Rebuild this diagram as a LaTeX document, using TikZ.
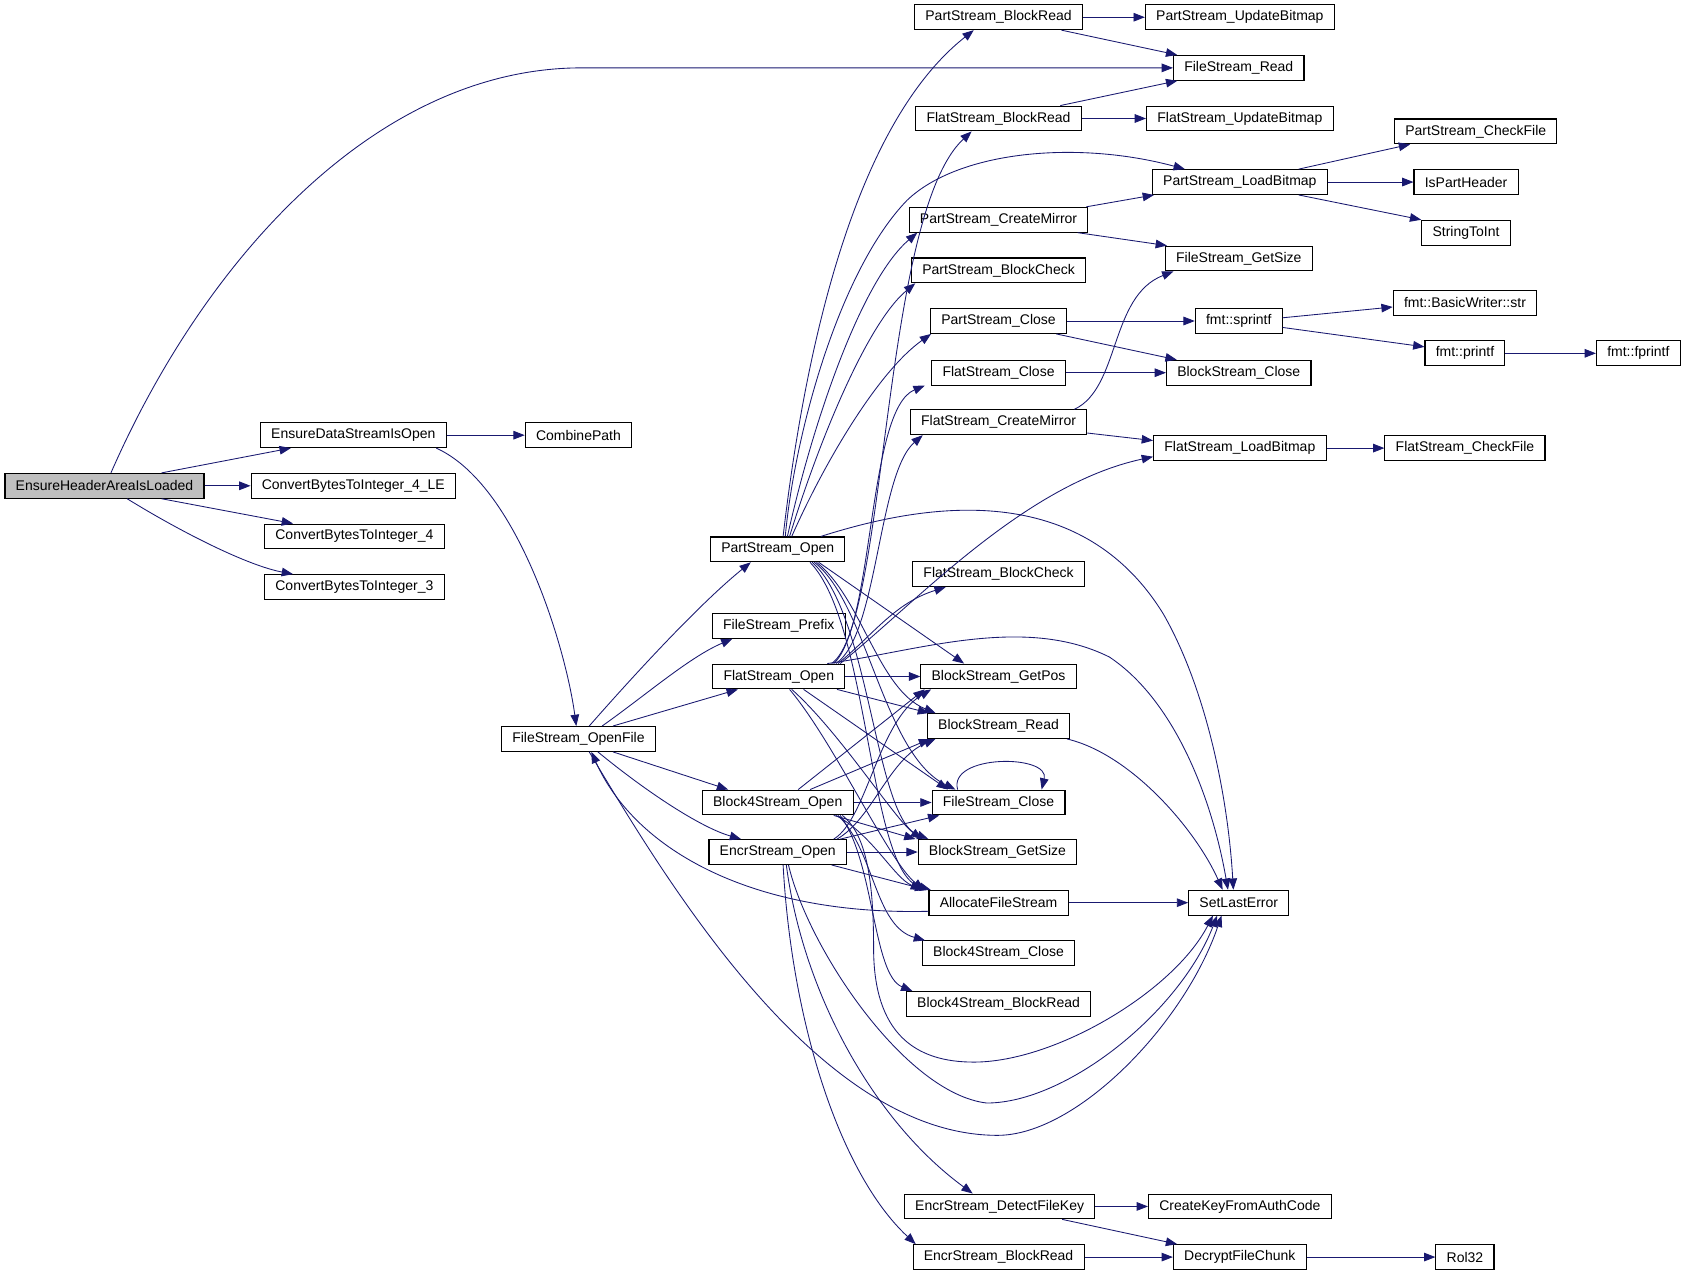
\documentclass[tikz,border=0pt]{standalone}
\usepackage{fontspec}
\newfontfamily\graphfont{Liberation Sans}
\usetikzlibrary{arrows.meta}
\definecolor{edgeblue}{HTML}{191970}

\begin{document}
\begin{tikzpicture}[x=1pt,y=-1pt]
			\tikzset{fn/.style={draw=black,fill=white,line width=1pt,minimum height=23pt,inner xsep=10pt,inner ysep=0pt,font=\graphfont\fontsize{13}{15}\selectfont},
				root/.style={fn,fill=black!25},
				edge/.style={draw=edgeblue,line width=0.8pt,-{Triangle[length=10.5pt,width=8pt]}}}
			\useasboundingbox (0,0) rectangle (1568,1185.5);
			\node [root] (ehal) at (97,451) {EnsureHeaderAreaIsLoaded};
			\node [fn] (edso) at (328,404) {EnsureDataStreamIsOpen};
			\node [fn] (cpath) at (537,404) {CombinePath};
			\node [fn] (cb4le) at (328,451) {ConvertBytesToInteger\_4\_LE};
			\node [fn] (cb4) at (329,498) {ConvertBytesToInteger\_4};
			\node [fn] (cb3) at (329,545) {ConvertBytesToInteger\_3};
			\node [fn] (fsof) at (537,686) {FileStream\_OpenFile};
			\node [fn] (psopen) at (722,510) {PartStream\_Open};
			\node [fn] (fspre) at (723,581) {FileStream\_Prefix};
			\node [fn] (fsopen) at (723,628) {FlatStream\_Open};
			\node [fn] (b4open) at (722,745) {Block4Stream\_Open};
			\node [fn] (esopen) at (722,791) {EncrStream\_Open};
			\node [fn] (psbr) at (927,16) {PartStream\_BlockRead};
			\node [fn] (psub) at (1151,16) {PartStream\_UpdateBitmap};
			\node [fn] (fsread) at (1150,63) {FileStream\_Read};
			\node [fn] (flbr) at (927,110) {FlatStream\_BlockRead};
			\node [fn] (flub) at (1151,110) {FlatStream\_UpdateBitmap};
			\node [fn] (pslb) at (1151,169) {PartStream\_LoadBitmap};
			\node [fn] (pscf) at (1370,122) {PartStream\_CheckFile};
			\node [fn] (isph) at (1361,169) {IsPartHeader};
			\node [fn] (s2i) at (1361,216) {StringToInt};
			\node [fn] (pscm) at (927,204) {PartStream\_CreateMirror};
			\node [fn] (fsgs) at (1150,240) {FileStream\_GetSize};
			\node [fn] (psbc) at (927,251) {PartStream\_BlockCheck};
			\node [fn] (psclose) at (927,298) {PartStream\_Close};
			\node [fn] (sprintf) at (1150,298) {fmt::sprintf};
			\node [fn] (bwstr) at (1360,281) {fmt::BasicWriter::str};
			\node [fn] (printf) at (1360,328) {fmt::printf};
			\node [fn] (fprintf) at (1521,328) {fmt::fprintf};
			\node [fn] (flclose) at (927,346) {FlatStream\_Close};
			\node [fn] (bsclose) at (1150,346) {BlockStream\_Close};
			\node [fn] (flcm) at (927,392) {FlatStream\_CreateMirror};
			\node [fn] (fllb) at (1151,416) {FlatStream\_LoadBitmap};
			\node [fn] (flcf) at (1360,416) {FlatStream\_CheckFile};
			\node [fn] (flbc) at (927,533) {FlatStream\_BlockCheck};
			\node [fn] (bsgp) at (927,628) {BlockStream\_GetPos};
			\node [fn] (bsread) at (927,674) {BlockStream\_Read};
			\node [fn] (fsclose) at (927,745) {FileStream\_Close};
			\node [fn] (bsgs) at (926,791) {BlockStream\_GetSize};
			\node [fn] (afs) at (927,838) {AllocateFileStream};
			\node [fn] (sle) at (1150,838) {SetLastError};
			\node [fn] (b4close) at (927,885) {Block4Stream\_Close};
			\node [fn] (b4br) at (927,932) {Block4Stream\_BlockRead};
			\node [fn] (esdfk) at (928,1120) {EncrStream\_DetectFileKey};
			\node [fn] (ckfac) at (1151,1120) {CreateKeyFromAuthCode};
			\node [fn] (esbr) at (927,1167) {EncrStream\_BlockRead};
			\node [fn] (dfc) at (1151,1167) {DecryptFileChunk};
			\node [fn] (rol) at (1360,1167) {Rol32};
			\draw [edge] ([xshift=6]ehal.north) .. controls (190,240) and (350,63) .. (540,63) -- (fsread.west);
			\draw [edge] ([xshift=53]ehal.north) -- ([xshift=-58]edso.south);
			\draw [edge] (ehal.east) -- (cb4le.west);
			\draw [edge] ([xshift=53]ehal.south) -- ([xshift=-57]cb4.north);
			\draw [edge] ([xshift=21]ehal.south) .. controls (170,495) and (230,525) .. ([xshift=-57]cb3.north);
			\draw [edge] (edso.east) -- (cpath.west);
			\draw [edge] ([xshift=77]edso.south) .. controls (480,450) and (525,600) .. ([xshift=-2]fsof.north);
			\draw [edge] ([xshift=10]fsof.north) .. controls (590,625) and (650,560) .. ([xshift=-25]psopen.south);
			\draw [edge] ([xshift=22]fsof.north) .. controls (600,645) and (640,610) .. ([xshift=-43]fspre.south);
			\draw [edge] ([xshift=32]fsof.north) -- ([xshift=-38]fsopen.south);
			\draw [edge] ([xshift=32]fsof.south) -- ([xshift=-46]b4open.north);
			\draw [edge] ([xshift=18]fsof.south) .. controls (600,735) and (650,768) .. ([xshift=-34]esopen.north);
			\draw [edge] ([xshift=5]psopen.north) .. controls (750,300) and (800,110) .. ([xshift=-23]psbr.south);
			\draw [edge] ([xshift=7]psopen.north) .. controls (738,400) and (780,250) .. (842,186) .. controls (890,140) and (1000,130) .. ([xshift=-51]pslb.north);
			\draw [edge] ([xshift=9]psopen.north) .. controls (755,390) and (800,260) .. ([xshift=8]pscm.south west);
			\draw [edge] ([xshift=11]psopen.north) .. controls (760,410) and (805,300) .. ([xshift=4]psbc.south west);
			\draw [edge] ([xshift=13]psopen.north) .. controls (765,430) and (815,345) .. ([xshift=1]psclose.south west);
			\draw [edge] ([xshift=40]psopen.north) .. controls (850,470) and (1000,440) .. (1080,570) .. controls (1120,640) and (1140,740) .. ([xshift=-5]sle.north);
			\draw [edge] ([xshift=38]psopen.south) -- ([xshift=-32]bsgp.north);
			\draw [edge] ([xshift=36]psopen.south) .. controls (800,555) and (815,640) .. ([xshift=8]bsread.north west);
			\draw [edge] ([xshift=34]psopen.south) .. controls (805,560) and (820,700) .. ([xshift=-40]fsclose.north);
			\draw [edge] ([xshift=32]psopen.south) .. controls (808,570) and (812,760) .. ([xshift=10]bsgs.north west);
			\draw [edge] ([xshift=30]psopen.south) .. controls (808,580) and (806,810) .. ([xshift=2]afs.north west);
			\draw [edge] ([xshift=49]fsopen.north) .. controls (824,580) and (818,200) .. ([xshift=-25]flbr.south);
			\draw [edge] ([xshift=51]fsopen.north) .. controls (812,580) and (805,380) .. ([xshift=-6]flclose.south west);
			\draw [edge] ([xshift=53]fsopen.north) .. controls (815,590) and (815,440) .. ([xshift=12]flcm.south west);
			\draw [edge] ([xshift=55]fsopen.north) .. controls (810,590) and (830,560) .. ([xshift=-49]flbc.south);
			\draw [edge] ([xshift=57]fsopen.north) .. controls (850,560) and (950,450) .. ([yshift=-8]fllb.west);
			\draw [edge] ([xshift=45]fsopen.north) .. controls (850,605) and (950,570) .. (1030,610) .. controls (1090,650) and (1125,740) .. ([xshift=-10]sle.north);
			\draw [edge] (fsopen.east) -- (bsgp.west);
			\draw [edge] ([xshift=54]fsopen.south) -- ([xshift=2]bsread.north west);
			\draw [edge] ([xshift=23]fsopen.south) -- ([xshift=-47]fsclose.north);
			\draw [edge] ([xshift=12]fsopen.south) .. controls (780,680) and (830,760) .. ([xshift=4]bsgs.north west);
			\draw [edge] ([xshift=10]fsopen.south) .. controls (775,690) and (825,800) .. ([xshift=-4]afs.north west);
			\draw [edge] ([xshift=19]b4open.north) -- ([xshift=4]bsgp.south west);
			\draw [edge] ([xshift=30]b4open.north) -- ([xshift=3]bsread.south west);
			\draw [edge] (b4open.east) -- (fsclose.west);
			\draw [edge] ([xshift=52]b4open.south) -- ([xshift=-2]bsgs.north west);
			\draw [edge] ([xshift=54]b4open.south) .. controls (810,775) and (830,815) .. ([xshift=-6]afs.north west);
			\draw [edge] ([xshift=56]b4open.south) .. controls (812,790) and (812,860) .. ([xshift=3]b4close.north west);
			\draw [edge] ([xshift=58]b4open.south) .. controls (812,800) and (810,905) .. ([xshift=6]b4br.north west);
			\draw [edge] ([xshift=60]b4open.south) .. controls (805,775) and (811,820) .. (811,880) .. controls (811,960) and (850,986) .. (904,986) .. controls (980,986) and (1090,920) .. ([xshift=-24]sle.south);
			\draw [edge] ([xshift=52]esopen.north) .. controls (805,760) and (815,670) .. ([xshift=10]bsgp.south west);
			\draw [edge] ([xshift=55]esopen.north) .. controls (810,760) and (825,705) .. ([xshift=8]bsread.south west);
			\draw [edge] ([xshift=58]esopen.north) -- ([xshift=-55]fsclose.south);
			\draw [edge] (esopen.east) -- (bsgs.west);
			\draw [edge] ([xshift=50]esopen.south) -- ([xshift=-2]afs.north west);
			\draw [edge] ([xshift=10]esopen.south) .. controls (750,880) and (840,1015) .. (916,1024) .. controls (990,1024) and (1095,940) .. ([xshift=-20]sle.south);
			\draw [edge] ([xshift=8]esopen.south) .. controls (745,920) and (810,1040) .. ([xshift=-25]esdfk.north);
			\draw [edge] ([xshift=5]esopen.south) .. controls (735,950) and (780,1090) .. ([xshift=3]esbr.north west);
			\draw [edge] ([xshift=10]fsof.south) .. controls (620,820) and (760,1054) .. (926,1054) .. controls (1000,1054) and (1100,950) .. ([xshift=-16]sle.south);
			\draw [edge] ([yshift=-8]afs.west) .. controls (700,850) and (590,790) .. ([xshift=12]fsof.south);
			\draw [edge] (afs.east) -- (sle.west);
			\draw [edge] ([xshift=-3]bsread.south east) .. controls (1050,700) and (1110,770) .. ([xshift=-15]sle.north);
			\draw [edge] ([xshift=-38]fsclose.north) .. controls (880,700) and (975,700) .. ([xshift=40]fsclose.north);
			\draw [edge] (psbr.east) -- (psub.west);
			\draw [edge] ([xshift=-20]psbr.south east) -- ([xshift=4]fsread.north west);
			\draw [edge] ([xshift=-20]flbr.north east) -- ([xshift=4]fsread.south west);
			\draw [edge] (flbr.east) -- (flub.west);
			\draw [edge] ([xshift=-27]pslb.north east) -- ([xshift=15]pscf.south west);
			\draw [edge] (pslb.east) -- (isph.west);
			\draw [edge] ([xshift=-27]pslb.south east) -- (s2i.north west);
			\draw [edge] ([xshift=-2]pscm.north east) -- ([xshift=2]pslb.south west);
			\draw [edge] ([xshift=-10]pscm.south east) -- ([xshift=2]fsgs.north west);
			\draw [edge] ([xshift=-12]flcm.north east) .. controls (1040,360) and (1030,275) .. ([xshift=8]fsgs.south west);
			\draw [edge] ([yshift=-10]flcm.east) -- ([yshift=7]fllb.west);
			\draw [edge] (psclose.east) -- (sprintf.west);
			\draw [edge] ([xshift=-10]psclose.south east) -- ([xshift=10]bsclose.north west);
			\draw [edge] (flclose.east) -- (bsclose.west);
			\draw [edge] ([yshift=3]sprintf.east) -- ([yshift=-4]bwstr.west);
			\draw [edge] ([yshift=-6]sprintf.east) -- ([yshift=6]printf.west);
			\draw [edge] (printf.east) -- (fprintf.west);
			\draw [edge] (fllb.east) -- (flcf.west);
			\draw [edge] (esdfk.east) -- (ckfac.west);
			\draw [edge] ([xshift=58]esdfk.south) -- ([xshift=4]dfc.north west);
			\draw [edge] (esbr.east) -- (dfc.west);
			\draw [edge] (dfc.east) -- (rol.west);
\end{tikzpicture}
\end{document}
